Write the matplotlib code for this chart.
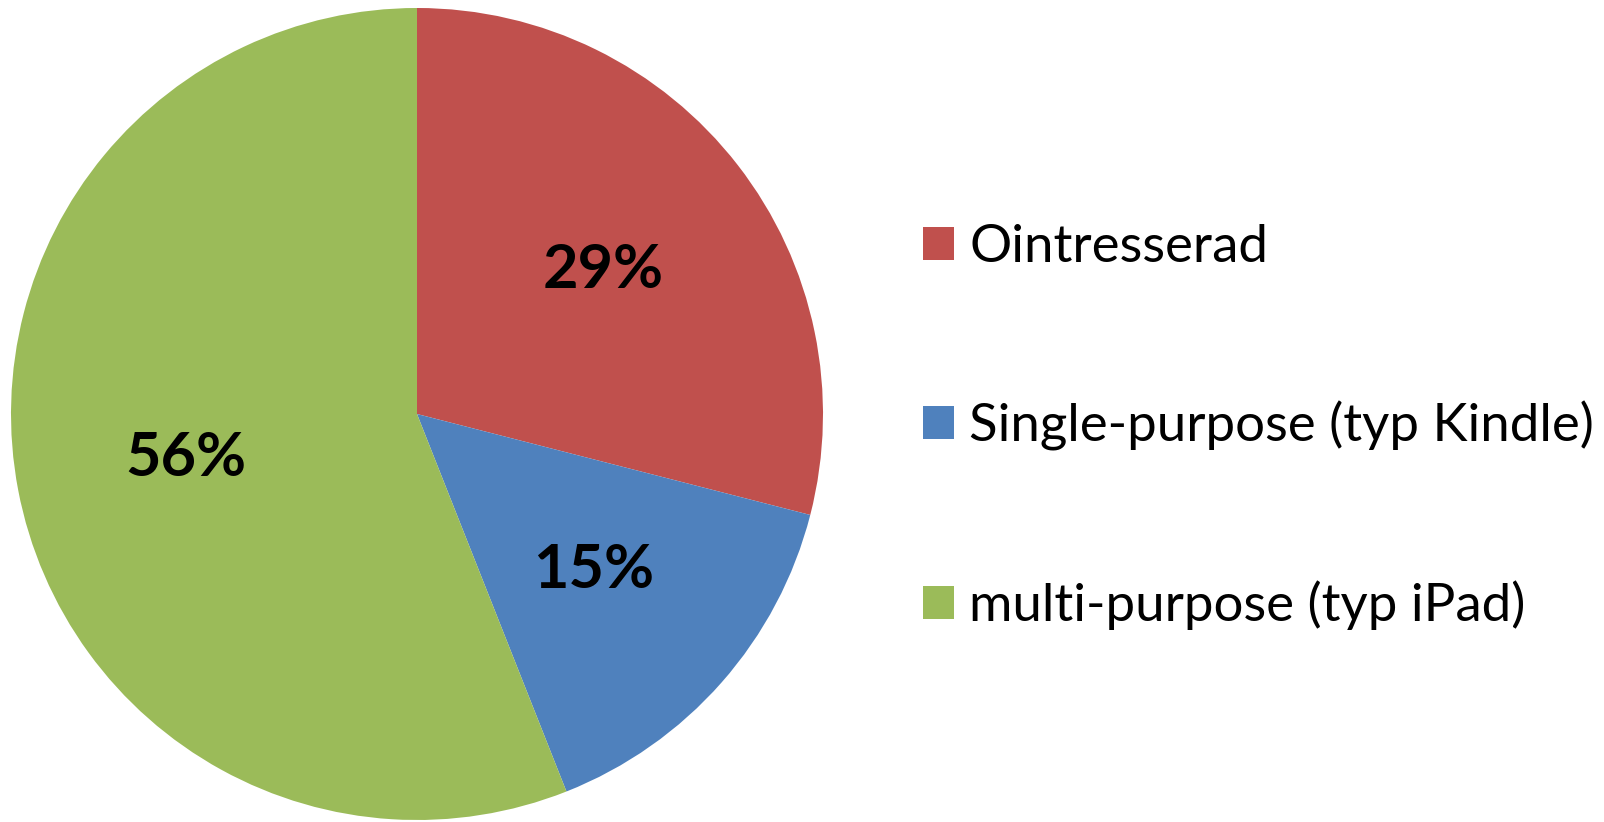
import matplotlib.pyplot as plt

labels = ["Ointresserad", "Single-purpose (typ Kindle)", "multi-purpose (typ iPad)"]
values = [29, 15, 56]
colors = ["#C0504D", "#4F81BD", "#9BBB59"]

plt.rcParams['font.family'] = ['Lato', 'DejaVu Sans']

fig = plt.figure(figsize=(16.04, 8.22), dpi=100)
# pie axes: square, centred around (417, 414) px, radius ~406 px
ax = fig.add_axes([11 / 1604, 2 / 822, 812 / 1604, 812 / 822])

wedges, texts, autotexts = ax.pie(
    values, colors=colors, startangle=90, counterclock=False,
    autopct='%1.0f%%', pctdistance=0.58,
    wedgeprops=dict(linewidth=0),
    textprops=dict(fontsize=44, fontweight='bold', color='black'))
ax.set_xlim(-1, 1)
ax.set_ylim(-1, 1)
ax.set_aspect('equal')

leg = fig.legend(wedges, labels, loc='center left',
                 bbox_to_anchor=(923 / 1604, 1 - 427 / 822), frameon=False,
                 fontsize=38, handlelength=0.59, handleheight=0.59,
                 handletextpad=0.29, labelspacing=2.45,
                 borderpad=0, borderaxespad=0)

fig.savefig("out.png", dpi=100)
